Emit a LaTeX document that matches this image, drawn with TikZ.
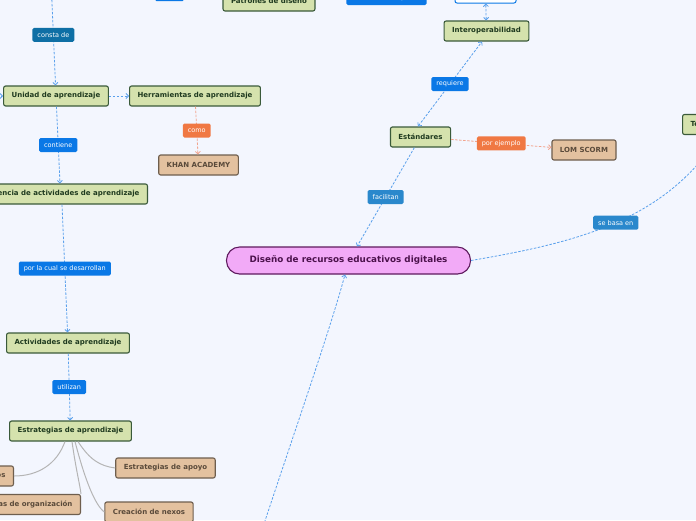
\documentclass[tikz,border=0pt]{standalone}
\usepackage{fontspec}
\setmainfont{DejaVu Sans}
\usetikzlibrary{arrows.meta,positioning,calc}

\definecolor{fondo}{HTML}{F3F6FE}
\definecolor{verdefondo}{HTML}{D5E2AD}
\definecolor{verdeborde}{HTML}{3A5A3A}
\definecolor{verdetexto}{HTML}{1F3A1F}
\definecolor{marronfondo}{HTML}{E3C19F}
\definecolor{marronborde}{HTML}{6E5E4E}
\definecolor{marrontexto}{HTML}{5A4A3A}
\definecolor{rosafondo}{HTML}{F2AAF7}
\definecolor{rosaborde}{HTML}{5E1A5E}
\definecolor{rosatexto}{HTML}{4C124C}
\definecolor{azul}{HTML}{0A78E6}
\definecolor{azulosc}{HTML}{0E6FA5}
\definecolor{azulmed}{HTML}{2A88CC}
\definecolor{naranja}{HTML}{F07843}
\definecolor{azulclaro}{HTML}{5AA0EC}
\definecolor{salmon}{HTML}{F2A48E}
\definecolor{gris}{HTML}{B5B5B5}

\begin{document}
\begin{tikzpicture}[x=1pt,y=-1pt,
   >={Straight Barb[length=2.5pt,width=5pt]},
   font=\bfseries\fontsize{7}{8}\selectfont,
   tema/.style={draw=verdeborde,fill=verdefondo,text=verdetexto,rounded corners=2pt,line width=1.1pt,minimum height=20pt,inner xsep=8pt,inner ysep=2pt},
   hoja/.style={tema,draw=marronborde,fill=marronfondo,text=marrontexto},
   raiz/.style={draw=rosaborde,fill=rosafondo,text=rosatexto,rounded corners=13pt,line width=1.1pt,minimum height=27pt,inner xsep=23pt,font=\bfseries\fontsize{8.8}{10}\selectfont},
   lbl/.style={fill=azul,text=white,rounded corners=1.5pt,font=\fontsize{6.5}{7.5}\selectfont,minimum height=14pt,inner xsep=5pt,inner ysep=1pt},
   enlace/.style={draw=azulclaro,line width=0.8pt,dash pattern=on 2.5pt off 1.5pt},
   rama/.style={draw=gris,line width=1pt}]
  \useasboundingbox (0,0) rectangle (696,520);
  \fill[fondo] (0,0) rectangle (696,520);
  \clip (0,0) rectangle (696,520);

  % nodos
  \node[raiz] (diseno) at (348.5,260.5) {Diseño de recursos educativos digitales};
  \node[tema] (estandares) at (420.5,137) {Estándares};
  \node[tema] (interop) at (486.5,31) {Interoperabilidad};
  \node[draw=azul,fill=white,rounded corners=2pt,line width=1pt,minimum width=61pt,minimum height=20pt] (caract) at (485.5,-7) {};
  \node[hoja] (lom) at (584,150) {LOM SCORM};
  \node[tema,anchor=west] (teorias) at (682,124.5) {Teorías de aprendizaje};
  \node[tema] (unidad) at (56,96) {Unidad de aprendizaje};
  \node[tema] (herram) at (195,96) {Herramientas de aprendizaje};
  \node[hoja] (khan) at (198.5,165) {KHAN ACADEMY};
  \node[tema] (patrones) at (269,1) {Patrones de diseño};
  \node[tema,anchor=east] (secuencia) at (148,194) {Secuencia de actividades de aprendizaje};
  \node[tema] (activ) at (68,343) {Actividades de aprendizaje};
  \node[tema] (estrat) at (70.5,431) {Estrategias de aprendizaje};
  \node[hoja,anchor=east] (repaso) at (14,476) {Organizadores previos};
  \node[hoja,anchor=east] (organiz) at (81,504.5) {Estrategias de organización};
  \node[hoja] (apoyo) at (165.5,468) {Estrategias de apoyo};
  \node[hoja] (nexos) at (149,512) {Creación de nexos};

  \coordinate (arriba) at (51,-20);
  \coordinate (izq) at (-15,96);
  \coordinate (abajo) at (262,530);
  \node[lbl,minimum width=29pt] (lblsup) at (169.5,-6) {};
  \node[lbl] (lblcar) at (386.5,-2) {caracterizados por su};

  % conectores
  \draw[enlace,->] (arriba) -- node[lbl,fill=azulosc,pos=0.52]{consta de} (unidad);
  \draw[enlace,->] (izq) -- (unidad);
  \draw[enlace,->] (unidad) -- (herram);
  \draw[enlace,->] (unidad) -- node[lbl]{contiene} (secuencia.north -| 60,0);
  \draw[enlace,draw=salmon,->] (herram) -- node[lbl,fill=naranja]{como} (khan);
  \draw[enlace,->] (secuencia.south -| 62,0) -- node[lbl]{por la cual se desarrollan} (activ);
  \draw[enlace,->] (activ) -- node[lbl]{utilizan} (estrat);
  \draw[rama] (estrat.south -| 65,0) to[out=-110,in=0] (repaso.east);
  \draw[rama] (estrat.south -| 72,0) .. controls (76,470) and (80,485) .. (organiz.north east);
  \draw[rama] (estrat.south -| 75,0) .. controls (85,480) and (95,505) .. (nexos.west);
  \draw[rama] (estrat.south -| 78,0) .. controls (90,460) and (100,466) .. (apoyo.west);
  \draw[enlace,<->] (estandares.north -| 418,0) -- node[lbl]{requiere} (interop.south -| 482,0);
  \draw[enlace,<->] (interop) -- (caract);
  \draw[enlace,draw=salmon,->] (estandares) -- node[lbl,fill=naranja]{por ejemplo} (lom);
  \draw[enlace,->] (estandares) -- node[lbl,fill=azulmed]{facilitan} (diseno.north -| 357,0);
  \draw[enlace] (diseno.east) .. controls (580,242) and (665,220) .. node[lbl,fill=azulmed,pos=0.5]{se basa en} (teorias.south -| 720,0);
  \draw[enlace,->] (abajo) .. controls (295,430) and (330,330) .. (diseno.south -| 345,0);
\end{tikzpicture}
\end{document}
